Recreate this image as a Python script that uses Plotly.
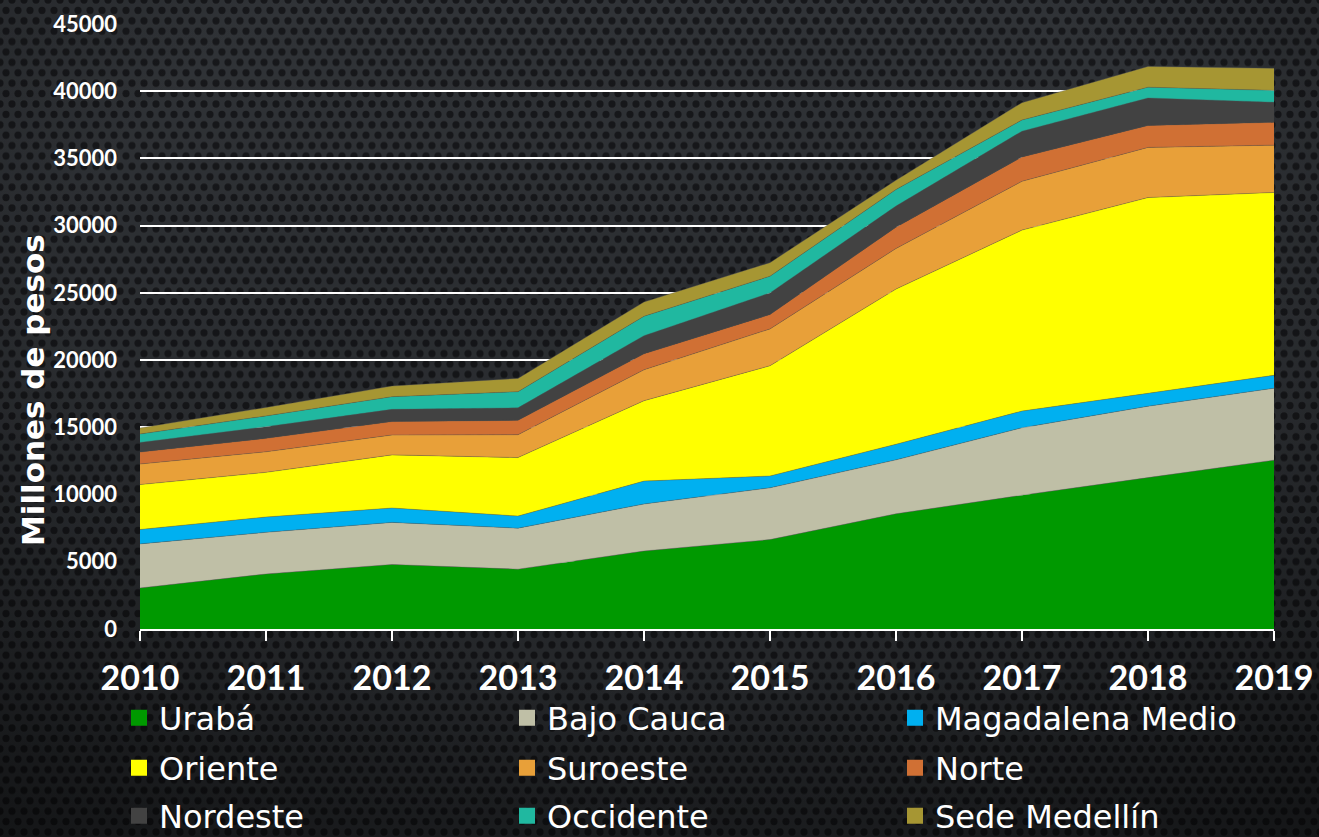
import base64
import plotly.graph_objects as go

years = [2010, 2011, 2012, 2013, 2014, 2015, 2016, 2017, 2018, 2019]

uraba = [3050, 4090, 4800, 4450, 5800, 6650, 8570, 9950, 11260, 12560]
bajo_cauca = [3280, 3100, 3130, 3050, 3500, 3850, 4010, 5020, 5310, 5350]
magdalena_medio = [1070, 1140, 1070, 900, 1700, 880, 1160, 1240, 960, 960]
oriente = [3340, 3320, 3950, 4350, 5980, 8200, 11540, 13460, 14560, 13600]
suroeste = [1530, 1530, 1480, 1700, 2300, 2740, 3020, 3630, 3730, 3520]
norte = [890, 1000, 1000, 1070, 1190, 1070, 1590, 1810, 1630, 1700]
nordeste = [720, 870, 910, 930, 1350, 1610, 1570, 1920, 2050, 1490]
occidente = [620, 800, 940, 1200, 1440, 1240, 1230, 830, 800, 880]
sede_medellin = [450, 630, 790, 990, 1060, 1010, 690, 1290, 1540, 1640]

series = [
    ("Urabá", uraba, "#009900"),
    ("Bajo Cauca", bajo_cauca, "#BFBFA6"),
    ("Magadalena Medio", magdalena_medio, "#00B0F0"),
    ("Oriente", oriente, "#FFFF00"),
    ("Suroeste", suroeste, "#E8A039"),
    ("Norte", norte, "#D07034"),
    ("Nordeste", nordeste, "#424242"),
    ("Occidente", occidente, "#20B8A0"),
    ("Sede Medellín", sede_medellin, "#A69633"),
]

W, H = 1319, 837
L, R, T, B = 140, 45, 24, 208

fig = go.Figure()
for name, vals, col in series:
    fig.add_trace(go.Scatter(
        x=years, y=vals, name=name, stackgroup="one", mode="lines",
        line=dict(width=0.6, color="rgba(90,90,90,0.6)"), fillcolor=col,
        showlegend=False, hoverinfo="x+y+name",
    ))

# one single-entry legend per item, laid out in a 3x3 grid
col_x = [119, 507, 895]
row_y = [718, 768, 816]
leg_layouts = {}
for i, (name, vals, col) in enumerate(series):
    key = "legend" if i == 0 else f"legend{i + 1}"
    fig.add_trace(go.Scatter(
        x=[None], y=[None], name=name, mode="markers",
        marker=dict(symbol="square", size=17, color=col, line=dict(width=0)),
        showlegend=True, legend=key,
    ))
    leg_layouts[key] = dict(
        orientation="h", xref="container", yref="container",
        x=col_x[i % 3] / W, y=1 - row_y[i // 3] / H,
        xanchor="left", yanchor="middle",
        font=dict(family="DejaVu Sans", size=32, color="white"),
        bgcolor="rgba(0,0,0,0)", itemclick=False, itemdoubleclick=False,
    )

# textured background (SVG)
svg = f'''<svg xmlns="http://www.w3.org/2000/svg" width="{W}" height="{H}" viewBox="0 0 {W} {H}" preserveAspectRatio="none">
<defs>
<pattern id="p" width="12" height="20.8" patternUnits="userSpaceOnUse">
<rect width="12" height="20.8" fill="#303337"/>
<circle cx="0" cy="0" r="3.6" fill="#17181b"/>
<circle cx="12" cy="0" r="3.6" fill="#17181b"/>
<circle cx="6" cy="10.4" r="3.6" fill="#17181b"/>
<circle cx="0" cy="20.8" r="3.6" fill="#17181b"/>
<circle cx="12" cy="20.8" r="3.6" fill="#17181b"/>
</pattern>
<linearGradient id="g" x1="0" y1="0" x2="0" y2="1">
<stop offset="0" stop-color="#000" stop-opacity="0.0"/>
<stop offset="1" stop-color="#000" stop-opacity="0.3"/>
</linearGradient>
<radialGradient id="r" cx="0.5" cy="0.35" r="0.8">
<stop offset="0.55" stop-color="#000" stop-opacity="0"/>
<stop offset="1" stop-color="#000" stop-opacity="0.4"/>
</radialGradient>
</defs>
<rect width="{W}" height="{H}" fill="url(#p)"/>
<rect width="{W}" height="{H}" fill="url(#g)"/>
<rect width="{W}" height="{H}" fill="url(#r)"/>
</svg>'''
src = "data:image/svg+xml;base64," + base64.b64encode(svg.encode()).decode()

pw, ph = W - L - R, H - T - B
fig.add_layout_image(dict(
    source=src, xref="paper", yref="paper",
    x=-L / pw, y=1 + T / ph, sizex=W / pw, sizey=H / ph,
    sizing="stretch", layer="below", xanchor="left", yanchor="top",
))

fig.add_annotation(
    text="<b>Millones de pesos</b>", textangle=-90, showarrow=False,
    xref="paper", yref="paper", x=(33 - L) / pw, y=(629 - 390) / ph,
    xanchor="center", yanchor="middle",
    font=dict(family="DejaVu Sans", size=31, color="white"),
)

fig.update_layout(
    width=W, height=H,
    margin=dict(l=L, r=R, t=T, b=B, autoexpand=False),
    paper_bgcolor="#1f2124", plot_bgcolor="rgba(0,0,0,0)",
    showlegend=True,
    **leg_layouts,
    xaxis=dict(
        range=[2010, 2019], tickmode="array", tickvals=years,
        ticktext=[str(y) for y in years], automargin=False,
        showgrid=False, zeroline=False, showline=True, linecolor="white", linewidth=2,
        ticks="outside", ticklen=10, tickwidth=2, tickcolor="white",
        ticklabelstandoff=8,
        tickfont=dict(family="Lato", size=34, color="white", weight="bold"),
    ),
    yaxis=dict(
        range=[0, 45000], tickmode="array", automargin=False,
        tickvals=list(range(0, 45001, 5000)),
        ticktext=[str(v) for v in range(0, 45001, 5000)],
        showgrid=True, gridcolor="white", gridwidth=2,
        zeroline=False, showline=False, ticks="",
        ticklabelstandoff=22,
        tickfont=dict(family="Lato", size=22, color="white", weight="bold"),
    ),
)

fig.write_html(
    "out.html",
    config={"displayModeBar": False},
    post_script="document.body.style.margin='0';document.body.style.overflow='hidden';document.body.style.background='#1f2124';",
)
